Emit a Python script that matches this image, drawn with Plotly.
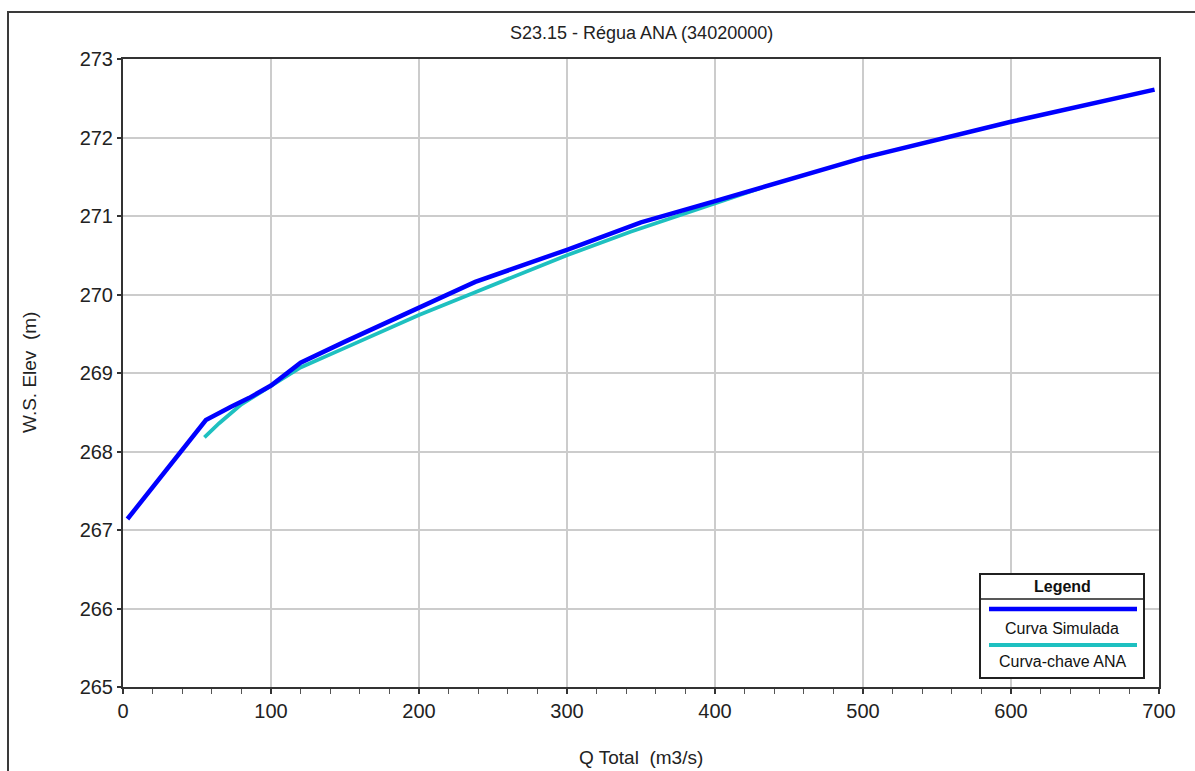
import plotly.graph_objects as go

# ---- data ----
sim_q = [3, 56, 73, 85, 100, 120, 150, 200, 238, 300, 343, 350, 400, 450, 500, 600, 697]
sim_wse = [267.14, 268.40, 268.57, 268.68, 268.84, 269.13, 269.40, 269.84, 270.16,
           270.57, 270.86, 270.92, 271.19, 271.47, 271.74, 272.20, 272.61]

ana_q = [55, 65, 80, 100, 120, 150, 200, 238, 300, 343, 400, 430]
ana_wse = [268.18, 268.36, 268.60, 268.83, 269.07, 269.32, 269.74, 270.03,
           270.50, 270.80, 271.16, 271.35]

x_ticks = [0, 100, 200, 300, 400, 500, 600, 700]
y_ticks = [265, 266, 267, 268, 269, 270, 271, 272, 273]

title_text = "S23.15 - Régua ANA (34020000)"
x_title = "Q Total\u00a0\u00a0(m3/s)"
y_title = "W.S. Elev\u00a0\u00a0(m)"
legend_title = "Legend"
series_names = ["Curva Simulada", "Curva-chave ANA"]
series_colors = ["#0000FF", "#1EC0C0"]

FONT = "Arial, 'Liberation Sans', sans-serif"

W, H = 1195, 771
L, R, T, B = 123, 1159, 59, 687  # plot area in pixels
PW, PH = R - L, B - T


def px(xp):
    return (xp - L) / PW


def py(yp):
    return (B - yp) / PH


fig = go.Figure()
fig.add_trace(go.Scatter(x=ana_q, y=ana_wse, mode="lines", name=series_names[1],
                         line=dict(color=series_colors[1], width=3.8), showlegend=False))
fig.add_trace(go.Scatter(x=sim_q, y=sim_wse, mode="lines", name=series_names[0],
                         line=dict(color=series_colors[0], width=4.5), showlegend=False))

shapes = []
annotations = []

# outer frame
shapes.append(dict(type="rect", xref="paper", yref="paper",
                   x0=px(8), x1=px(1210), y0=py(790), y1=py(12),
                   line=dict(color="#3a3a3a", width=2), fillcolor="rgba(0,0,0,0)", layer="above"))

# legend box
lx0, lx1, ly0, ly1 = 980, 1144, 574, 678
shapes.append(dict(type="rect", xref="paper", yref="paper",
                   x0=px(lx0), x1=px(lx1), y0=py(ly1), y1=py(ly0),
                   line=dict(color="#202020", width=2), fillcolor="white", layer="above"))
shapes.append(dict(type="line", xref="paper", yref="paper",
                   x0=px(lx0), x1=px(lx1), y0=py(599), y1=py(599),
                   line=dict(color="#202020", width=1.5), layer="above"))
shapes.append(dict(type="line", xref="paper", yref="paper",
                   x0=px(989), x1=px(1137), y0=py(609), y1=py(609),
                   line=dict(color=series_colors[0], width=4.5), layer="above"))
shapes.append(dict(type="line", xref="paper", yref="paper",
                   x0=px(989), x1=px(1137), y0=py(645), y1=py(645),
                   line=dict(color=series_colors[1], width=4), layer="above"))
lcx = px((lx0 + lx1) / 2)
annotations.append(dict(text="<b>" + legend_title + "</b>", xref="paper", yref="paper",
                        x=lcx, y=py(586), showarrow=False, xanchor="center", yanchor="middle",
                        font=dict(family=FONT, size=16, color="#111")))
annotations.append(dict(text=series_names[0], xref="paper", yref="paper",
                        x=lcx, y=py(628), showarrow=False, xanchor="center", yanchor="middle",
                        font=dict(family=FONT, size=16, color="#111")))
annotations.append(dict(text=series_names[1], xref="paper", yref="paper",
                        x=lcx, y=py(661), showarrow=False, xanchor="center", yanchor="middle",
                        font=dict(family=FONT, size=16, color="#111")))

# axis titles and chart title
annotations.append(dict(text=x_title, xref="paper", yref="paper", x=0.5, y=py(757),
                        showarrow=False, xanchor="center", yanchor="middle",
                        font=dict(family=FONT, size=19, color="#222")))
annotations.append(dict(text=y_title, xref="paper", yref="paper", x=px(29), y=0.5,
                        showarrow=False, xanchor="center", yanchor="middle", textangle=-90,
                        font=dict(family=FONT, size=19, color="#222")))
annotations.append(dict(text=title_text, xref="paper", yref="paper", x=0.5, y=py(33),
                        showarrow=False, xanchor="center", yanchor="middle",
                        font=dict(family=FONT, size=18, color="#222")))

fig.update_layout(
    width=W, height=H,
    margin=dict(l=L, r=W - R, t=T, b=H - B, pad=0),
    paper_bgcolor="white", plot_bgcolor="white",
    showlegend=False,
    shapes=shapes, annotations=annotations,
    font=dict(family=FONT, size=20, color="#222"),
)
fig.update_xaxes(
    range=[0, 700], tickvals=x_ticks, ticktext=[str(v) for v in x_ticks],
    showgrid=True, gridcolor="#cccccc", gridwidth=1.6,
    showline=True, linecolor="#333333", linewidth=2, mirror=True,
    ticks="outside", ticklen=5, tickwidth=1.5, tickcolor="#333333",
    minor=dict(dtick=20, tick0=0, ticks="outside", ticklen=5, tickwidth=1, tickcolor="#555555", showgrid=False),
    zeroline=False, tickfont=dict(family=FONT, size=20, color="#222"),
)
fig.update_yaxes(
    range=[265, 273], tickvals=y_ticks, ticktext=[str(v) for v in y_ticks],
    showgrid=True, gridcolor="#cccccc", gridwidth=1.6,
    showline=True, linecolor="#333333", linewidth=2, mirror=True,
    ticks="outside", ticklen=4, tickwidth=1.5, tickcolor="#333333",
    zeroline=False, tickfont=dict(family=FONT, size=20, color="#222"),
)

fig.write_html("out.html", config={"displayModeBar": False},
               post_script="document.body.style.margin='0';document.body.style.overflow='hidden';")
